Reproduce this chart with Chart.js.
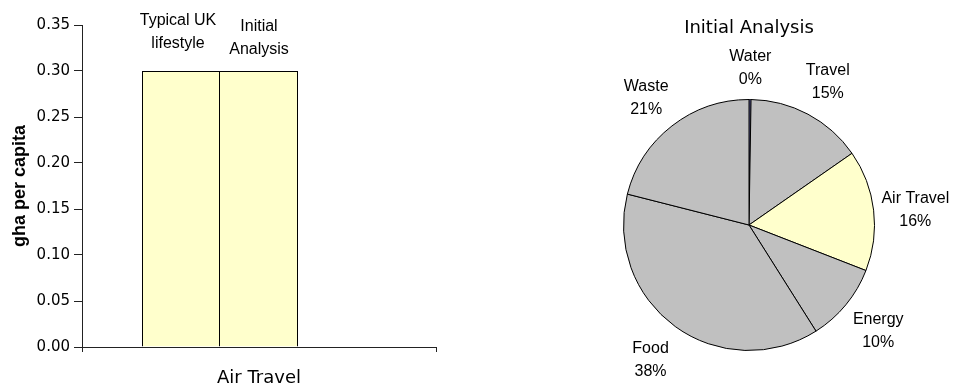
<!DOCTYPE html>
<html lang="en">
<head>
    <meta charset="UTF-8">
    <title>Air Travel footprint</title>
    <script src="https://cdn.jsdelivr.net/npm/chart.js"></script>
    <style>
        body { margin: 0; background: #fff; }
        #barBox { position: absolute; left: 0; top: 0; width: 470px; height: 386px; }
        #pieBox { position: absolute; left: 470px; top: 0; width: 483px; height: 386px; }
    </style>
</head>
<body>
    <div id="barBox"><canvas id="graficoBarras"></canvas></div>
    <div id="pieBox"><canvas id="graficoPie"></canvas></div>

    <script>
        // datos del grafico de barras
        const categorias = ['Air Travel'];
        const series = ['Typical UK\nlifestyle', 'Initial\nAnalysis', ''];
        const valoresTipico = [0.30];
        const valoresInicial = [0.30];
        const valoresTercera = [null];
        const ticksY = [0, 0.05, 0.10, 0.15, 0.20, 0.25, 0.30, 0.35];

        // datos del pie (gha per capita)
        const pieEtiquetas = ['Water', 'Travel', 'Air Travel', 'Energy', 'Food', 'Waste'];
        const pieValores = [0.005, 0.29, 0.30, 0.195, 0.73, 0.405];
        const pieColores = ['#9999FF', '#C0C0C0', '#FFFFCC', '#C0C0C0', '#C0C0C0', '#C0C0C0'];

        const ejeColor = '#222';

        // etiquetas con el nombre de la serie encima de cada barra
        const etiquetasBarras = {
            id: 'etiquetasBarras',
            afterDatasetsDraw(chart, args, opts) {
                const ctx = chart.ctx;
                ctx.save();
                ctx.font = '16px "Liberation Sans", Arial, sans-serif';
                ctx.fillStyle = '#000';
                ctx.textAlign = 'center';
                ctx.textBaseline = 'middle';
                chart.data.datasets.forEach((ds, i) => {
                    const meta = chart.getDatasetMeta(i);
                    meta.data.forEach((bar, j) => {
                        if (ds.data[j] == null) return;
                        const lineas = ds.label.split('\n');
                        const base = bar.y - opts.offsets[i];
                        lineas.forEach((l, k) => {
                            ctx.fillText(l, bar.x - (i === 0 ? 3 : 0), base - (lineas.length - 1 - k) * 23);
                        });
                    });
                });
                ctx.restore();
            }
        };

        new Chart(document.getElementById('graficoBarras'), {
            type: 'bar',
            data: {
                labels: categorias,
                datasets: [valoresTipico, valoresInicial, valoresTercera].map((d, i) => ({
                    label: series[i],
                    data: d,
                    backgroundColor: '#FFFFCC',
                    borderColor: '#000',
                    borderWidth: i === 1 ? { left: 0, top: 1, right: 1, bottom: 0 } : 1
                }))
            },
            options: {
                responsive: true,
                maintainAspectRatio: false,
                animation: false,
                layout: { padding: { left: 0, top: 25, right: 34, bottom: 0 } },
                datasets: { bar: { categoryPercentage: 234 / 354, barPercentage: 1 } },
                plugins: {
                    legend: { display: false },
                    tooltip: { enabled: false },
                    etiquetasBarras: { offsets: [27, 21, 21] }
                },
                scales: {
                    x: {
                        grid: { drawOnChartArea: false, offset: true, tickLength: 5, color: ejeColor },
                        border: { color: ejeColor },
                        ticks: {
                            color: '#000',
                            padding: 16,
                            font: { family: '"DejaVu Sans", Verdana, sans-serif', size: 18 }
                        },
                        afterFit(scale) { scale.height = 39; }
                    },
                    y: {
                        min: 0,
                        max: 0.35,
                        afterBuildTicks(scale) { scale.ticks = ticksY.map(v => ({ value: v })); },
                        grid: { drawOnChartArea: false, tickLength: 8, color: ejeColor },
                        border: { color: ejeColor },
                        ticks: {
                            color: '#000',
                            padding: 4,
                            font: { family: '"DejaVu Sans", Verdana, sans-serif', size: 15 },
                            callback: v => v.toFixed(2)
                        },
                        title: {
                            display: true,
                            text: 'gha per capita',
                            color: '#000',
                            padding: { top: 9, bottom: 0 },
                            font: { family: '"Liberation Sans", Arial, sans-serif', size: 18, weight: 'bold' }
                        },
                        afterFit(scale) { scale.width = 82; }
                    }
                }
            },
            plugins: [etiquetasBarras]
        });

        // etiquetas nombre + porcentaje fuera del pie
        const etiquetasPie = {
            id: 'etiquetasPie',
            afterDatasetsDraw(chart) {
                const ctx = chart.ctx;
                const meta = chart.getDatasetMeta(0);
                const datos = chart.data.datasets[0].data;
                const total = datos.reduce((a, b) => a + b, 0);
                ctx.save();
                ctx.font = '16px "Liberation Sans", Arial, sans-serif';
                ctx.fillStyle = '#000';
                ctx.textAlign = 'center';
                ctx.textBaseline = 'middle';
                meta.data.forEach((arc, i) => {
                    const ang = (arc.startAngle + arc.endAngle) / 2;
                    const r = arc.outerRadius + (i === 0 ? 36 : 42);
                    const x = arc.x + Math.cos(ang) * r;
                    let y = arc.y + Math.sin(ang) * r;
                    if (Math.sin(ang) < 0) y += 5; // las de arriba quedan un poco mas bajas
                    const pct = Math.round(datos[i] / total * 100) + '%';
                    ctx.fillText(chart.data.labels[i], x, y - 11.5);
                    ctx.fillText(pct, x, y + 11.5);
                });
                ctx.restore();
            }
        };

        new Chart(document.getElementById('graficoPie'), {
            type: 'pie',
            data: {
                labels: pieEtiquetas,
                datasets: [{
                    data: pieValores,
                    backgroundColor: pieColores,
                    borderColor: '#000',
                    borderWidth: 1,
                    hoverOffset: 0
                }]
            },
            options: {
                responsive: true,
                maintainAspectRatio: false,
                animation: false,
                layout: { padding: { left: 153, right: 78, top: 0, bottom: 35 } },
                plugins: {
                    legend: { display: false },
                    tooltip: { enabled: false },
                    title: {
                        display: true,
                        text: 'Initial Analysis',
                        color: '#000',
                        padding: { top: 18, bottom: 59.4 },
                        font: { family: '"DejaVu Sans", Verdana, sans-serif', size: 18, weight: 'normal' }
                    }
                }
            },
            plugins: [etiquetasPie]
        });
    </script>
</body>
</html>
